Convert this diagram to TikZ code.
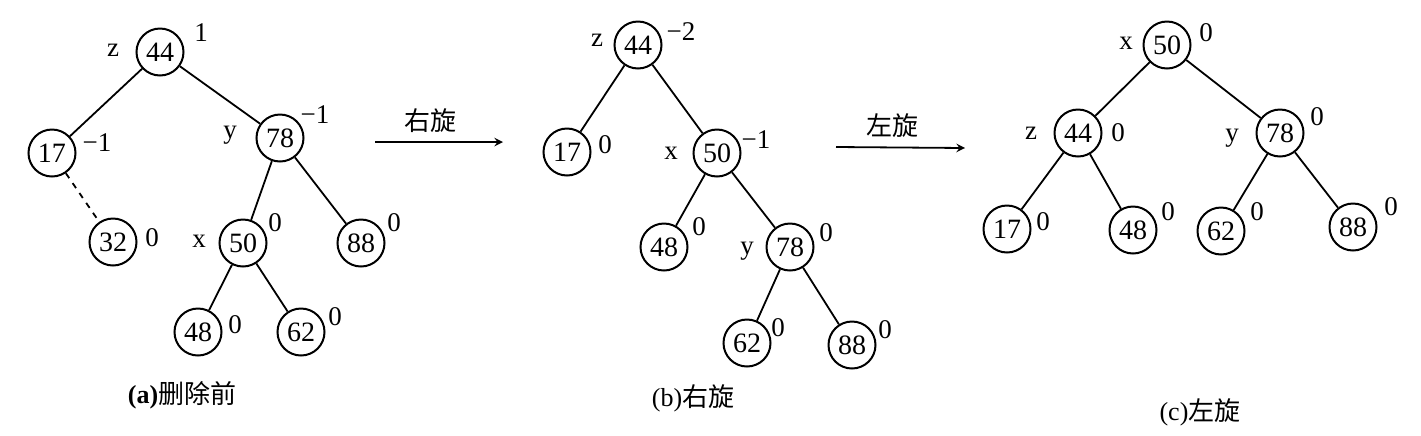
\documentclass[tikz,border=0pt]{standalone}
\usepackage{fontspec}
\setmainfont{Liberation Serif}
\newfontfamily\cjk{Noto Sans CJK SC}
\usetikzlibrary{arrows}

\begin{document}
\begin{tikzpicture}[x=0.5pt,y=-0.5pt]
			\tikzstyle{Key}		= [circle, draw, line width=1pt, fill=white, minimum size=23.5pt, inner sep=0pt, font=\fontsize{14}{16}\selectfont]
			\tikzstyle{Tag}		= [inner sep=0pt, font=\fontsize{13.5}{16}\selectfont]
			\tikzstyle{Cap}		= [inner sep=0pt, font=\fontsize{13}{15}\selectfont]
			\tikzstyle{Edge}	= [line width=0.9pt]
			\tikzstyle{Gone}	= [dashed]
			\tikzstyle{Rot}		= [line width=0.9pt, -stealth]

			\useasboundingbox (0,0) rectangle (1421,435);

			% (a) before deletion
			\node (a44) at (160,52) [Key] {44};
			\node (a17) at (52,153) [Key] {17};
			\node (a78) at (280,138) [Key] {78};
			\node (a32) at (113,242) [Key] {32};
			\node (a50) at (243,243) [Key] {50};
			\node (a88) at (361,243) [Key] {88};
			\node (a48) at (198,332) [Key] {48};
			\node (a62) at (301,332) [Key] {62};

			\node (az) at (113,50) [Tag] {z};
			\node (ay) at (230,135) [Tag] {y};
			\node (ax) at (199,241) [Tag] {x};
			\node (ab44) at (201,33) [Tag] {1};
			\node (ab17) at (97,143) [Tag] {−1};
			\node (ab78) at (315,115) [Tag] {−1};
			\node (ab32) at (152,238) [Tag] {0};
			\node (ab50) at (275,223) [Tag] {0};
			\node (ab88) at (394,223) [Tag] {0};
			\node (ab48) at (235,325) [Tag] {0};
			\node (ab62) at (335,317) [Tag] {0};

			\draw [-] (a44) to (a17) [Edge];
			\draw [-] (a44) to (a78) [Edge];
			\draw [-] (a17) to (a32) [Edge][Gone];
			\draw [-] (a78) to (a50) [Edge];
			\draw [-] (a78) to (a88) [Edge];
			\draw [-] (a50) to (a48) [Edge];
			\draw [-] (a50) to (a62) [Edge];

			\node (acap) at (182,395) [Cap] {\textbf{(a)}{\cjk 删除前}};

			% right rotation
			\coordinate (r0) at (375,142);
			\coordinate (r1) at (503,142);
			\draw (r0) to (r1) [Rot];
			\node (rlab) at (430,121) [Cap] {\cjk 右旋};

			% (b) after right rotation
			\node (b44) at (638,45) [Key] {44};
			\node (b17) at (567,152) [Key] {17};
			\node (b50) at (717,153) [Key] {50};
			\node (b48) at (664,247) [Key] {48};
			\node (b78) at (790,247) [Key] {78};
			\node (b62) at (747,343) [Key] {62};
			\node (b88) at (852,345) [Key] {88};

			\node (bz) at (597,40) [Tag] {z};
			\node (bx) at (671,153) [Tag] {x};
			\node (by) at (747,251) [Tag] {y};
			\node (bb44) at (681,32) [Tag] {−2};
			\node (bb17) at (605,145) [Tag] {0};
			\node (bb50) at (756,140) [Tag] {−1};
			\node (bb48) at (699,227) [Tag] {0};
			\node (bb78) at (826,233) [Tag] {0};
			\node (bb62) at (778,328) [Tag] {0};
			\node (bb88) at (885,330) [Tag] {0};

			\draw [-] (b44) to (b17) [Edge];
			\draw [-] (b44) to (b50) [Edge];
			\draw [-] (b50) to (b48) [Edge];
			\draw [-] (b50) to (b78) [Edge];
			\draw [-] (b78) to (b62) [Edge];
			\draw [-] (b78) to (b88) [Edge];

			\node (bcap) at (693,398) [Cap] {(b){\cjk 右旋}};

			% left rotation
			\coordinate (l0) at (836,147);
			\coordinate (l1) at (965,148);
			\draw (l0) to (l1) [Rot];
			\node (llab) at (892,126) [Cap] {\cjk 左旋};

			% (c) after left rotation
			\node (c50) at (1167,45) [Key] {50};
			\node (c44) at (1078,133) [Key] {44};
			\node (c78) at (1280,133) [Key] {78};
			\node (c17) at (1007,229) [Key] {17};
			\node (c48) at (1133,230) [Key] {48};
			\node (c62) at (1221,231) [Key] {62};
			\node (c88) at (1353,227) [Key] {88};

			\node (cx) at (1126,43) [Tag] {x};
			\node (cz) at (1031,133) [Tag] {z};
			\node (cy) at (1232,138) [Tag] {y};
			\node (cb50) at (1206,33) [Tag] {0};
			\node (cb44) at (1118,133) [Tag] {0};
			\node (cb78) at (1317,117) [Tag] {0};
			\node (cb17) at (1043,222) [Tag] {0};
			\node (cb48) at (1168,212) [Tag] {0};
			\node (cb62) at (1257,212) [Tag] {0};
			\node (cb88) at (1391,207) [Tag] {0};

			\draw [-] (c50) to (c44) [Edge];
			\draw [-] (c50) to (c78) [Edge];
			\draw [-] (c44) to (c17) [Edge];
			\draw [-] (c44) to (c48) [Edge];
			\draw [-] (c78) to (c62) [Edge];
			\draw [-] (c78) to (c88) [Edge];

			\node (ccap) at (1200,412) [Cap] {(c){\cjk 左旋}};
\end{tikzpicture}
\end{document}
